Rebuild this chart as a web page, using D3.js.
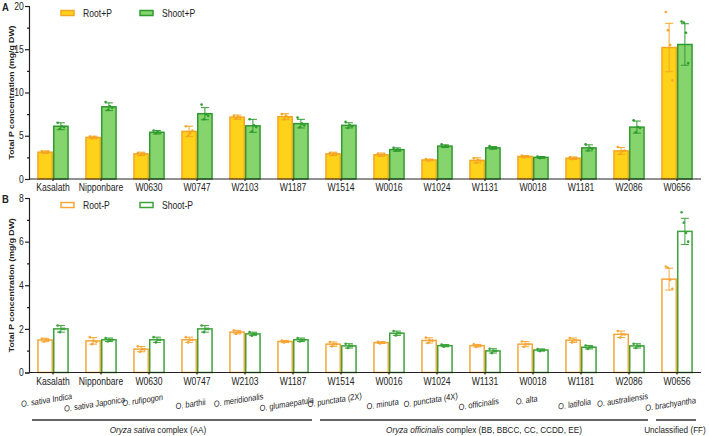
<!DOCTYPE html>
<html>
<head>
<meta charset="utf-8">
<script src="https://cdn.jsdelivr.net/npm/d3@7"></script>
<style>
  body { margin: 0; background: #fff; }
  svg { font-family: "Liberation Sans", Arial, sans-serif; }
  .axis text { font-size: 10px; fill: #222; }
  .axis path, .axis line { stroke: #222; stroke-width: 1.2; }
</style>
</head>
<body>
<div id="plot"></div>
<script>
// categories + species
const cats = ['Kasalath','Nipponbare','W0630','W0747','W2103','W1187','W1514','W0016','W1024','W1131','W0018','W1181','W2086','W0656']
const species = ['O. sativa Indica','O. sativa Japonica','O. rufipogon','O. barthii','O. meridionalis','O. glumaepatula',
  'O. punctata (2X)','O. minuta','O. punctata (4X)','O. officinalis','O. alta','O. latifolia','O. australiensis','O. brachyantha']
const groups = [
  {italic: 'Oryza sativa', rest: ' complex (AA)', from: 0, to: 5},
  {italic: 'Oryza officinalis', rest: ' complex (BB, BBCC, CC, CCDD, EE)', from: 6, to: 12},
  {italic: '', rest: 'Unclassified (FF)', from: 13, to: 13}
]

// panel A (+P)
const rootPlus = [3.1, 4.8, 2.9, 5.5, 7.15, 7.2, 2.9, 2.8, 2.2, 2.15, 2.6, 2.4, 3.25, 15.2]
const rootPlusSd = [0.15, 0.15, 0.2, 0.6, 0.25, 0.35, 0.2, 0.2, 0.1, 0.3, 0.1, 0.15, 0.4, 2.8]
const shootPlus = [6.1, 8.35, 5.4, 7.55, 6.15, 6.4, 6.2, 3.4, 3.8, 3.6, 2.5, 3.6, 6.0, 15.55]
const shootPlusSd = [0.4, 0.45, 0.2, 0.7, 0.75, 0.5, 0.3, 0.2, 0.15, 0.15, 0.1, 0.35, 0.7, 2.4]
const rootPlusReps = [[3.2,3.0,3.1,3.15],[4.9,4.7,4.85,4.75],[3.0,2.8,2.9,2.95],[6.1,5.0,5.3,5.6],[7.3,7.0,7.2,7.1],[7.5,6.9,7.3,7.1],[3.0,2.8,2.9,2.95],
  [2.9,2.7,2.8,2.85],[2.3,2.1,2.2,2.2],[2.4,1.9,2.2,2.1],[2.7,2.5,2.6,2.6],[2.5,2.3,2.4,2.4],[3.7,2.9,3.2,3.3],[19.3,17.2,15.5,11.4]]
const shootPlusReps = [[6.5,5.8,6.1,6.0],[8.9,8.0,8.4,8.2],[5.6,5.3,5.4,5.35],[8.6,6.9,7.5,7.3],[6.9,5.5,6.2,6.0],[7.1,6.0,6.4,6.2],[6.6,5.9,6.2,6.1],
  [3.6,3.3,3.4,3.35],[4.0,3.7,3.8,3.75],[3.8,3.5,3.6,3.6],[2.6,2.4,2.5,2.5],[4.0,3.3,3.6,3.5],[6.8,5.4,6.0,5.9],[18.2,18.1,16.9,13.4]]

// panel B (-P)
const rootMinus = [1.49, 1.45, 1.07, 1.5, 1.85, 1.42, 1.3, 1.37, 1.47, 1.23, 1.3, 1.48, 1.75, 4.28]
const rootMinusSd = [0.08, 0.15, 0.12, 0.12, 0.08, 0.05, 0.1, 0.04, 0.12, 0.06, 0.12, 0.1, 0.15, 0.5]
const shootMinus = [2.0, 1.5, 1.5, 2.0, 1.77, 1.5, 1.22, 1.8, 1.23, 0.99, 1.03, 1.16, 1.22, 6.47]
const shootMinusSd = [0.15, 0.08, 0.12, 0.15, 0.08, 0.08, 0.1, 0.1, 0.05, 0.1, 0.05, 0.08, 0.1, 0.6]
const rootMinusReps = [[1.55,1.42,1.5,1.48],[1.62,1.3,1.45,1.4],[1.2,0.95,1.07,1.05],[1.62,1.38,1.5,1.5],[1.93,1.78,1.85,1.84],[1.47,1.38,1.42,1.41],[1.4,1.2,1.3,1.3],
  [1.41,1.33,1.37,1.37],[1.6,1.35,1.47,1.46],[1.29,1.17,1.23,1.23],[1.42,1.18,1.3,1.3],[1.58,1.38,1.48,1.47],[1.9,1.6,1.75,1.74],[4.86,4.8,4.25,3.84]]
const shootMinusReps = [[2.15,1.85,2.0,2.0],[1.58,1.42,1.5,1.5],[1.62,1.38,1.5,1.5],[2.15,1.85,2.0,2.0],[1.85,1.69,1.77,1.77],[1.58,1.42,1.5,1.5],[1.32,1.12,1.22,1.22],
  [1.9,1.7,1.8,1.8],[1.28,1.18,1.23,1.23],[1.09,0.89,0.99,0.99],[1.08,0.98,1.03,1.03],[1.24,1.08,1.16,1.16],[1.32,1.12,1.22,1.22],[7.35,6.87,6.4,6.0]]

const W = 709, H = 436
const SQ = 0.86 // the reference type is a bit narrow, squeeze text horizontally
const svg = d3.select('#plot').append('svg').attr('width', W).attr('height', H)

const x = d3.scaleBand().domain(cats).range([29, 701]).padding(0)
const barW = 15.8
const mid = d => x(d) + x.bandwidth()/2

const colors = {
  rootFill: '#FFD21A', rootStroke: '#F5A524',
  shootFill: '#86D46E', shootStroke: '#2F9B2F',
  rootOpen: '#F7A637', shootOpen: '#3BA33A'
}

// text placed at (tx,ty), squeezed
function addText(parent, tx, ty, str, size, extra) {
  const t = parent.append('text')
    .attr('transform', `translate(${tx},${ty}) ${extra || ''} scale(${SQ},1)`)
    .attr('font-size', size).attr('fill', '#222')
  if (str != null) t.text(str)
  return t
}

function panel(opts) {
  const y = d3.scaleLinear().domain([0, opts.max]).range([opts.bottom, opts.top])
  const g = svg.append('g')

  const series = [
    {vals: opts.root, sd: opts.rootSd, reps: opts.rootReps, off: -barW, fill: opts.rootFill, stroke: opts.rootStroke},
    {vals: opts.shoot, sd: opts.shootSd, reps: opts.shootReps, off: 0, fill: opts.shootFill, stroke: opts.shootStroke}
  ]
  series.forEach(s => {
    const sg = g.append('g')
    sg.selectAll('rect').data(cats).join('rect')
      .attr('x', d => mid(d) + s.off + 0.75)
      .attr('width', barW - 1.5)
      .attr('y', (d, i) => y(s.vals[i]))
      .attr('height', (d, i) => y(0) - y(s.vals[i]))
      .attr('fill', s.fill)
      .attr('stroke', s.stroke)
      .attr('stroke-width', 1.5)
    const cx = d => mid(d) + s.off + barW/2
    // error bars
    sg.selectAll('path.err').data(cats).join('path')
      .attr('class', 'err')
      .attr('d', (d, i) => {
        const c = cx(d), lo = y(s.vals[i] - s.sd[i]), hi = y(s.vals[i] + s.sd[i])
        return `M${c},${lo}V${hi}M${c-4},${hi}H${c+4}M${c-4},${lo}H${c+4}`
      })
      .attr('fill', 'none').attr('stroke', s.stroke).attr('stroke-width', 1)
    // replicate dots
    const pts = []
    cats.forEach((d, i) => s.reps[i].forEach((v, j) => pts.push({c: cx(d) + (j - 1.5) * 2.2, v})))
    sg.selectAll('circle').data(pts).join('circle')
      .attr('cx', p => p.c).attr('cy', p => y(p.v)).attr('r', 1.3)
      .attr('fill', s.stroke)
  })

  // y axis
  g.append('g').attr('class', 'axis')
    .attr('transform', 'translate(29,0)')
    .call(d3.axisLeft(y).tickValues(opts.ticks).tickSize(4).tickPadding(2).tickFormat(d3.format('d')))
    .call(a => a.selectAll('.tick text').attr('transform', `scale(${SQ},1)`))
  g.append('g').attr('class', 'axis')
    .attr('transform', 'translate(29,0)')
    .call(d3.axisLeft(y).tickValues(opts.minor).tickSize(2).tickFormat(''))
    .call(a => a.select('.domain').remove())

  // x axis
  g.append('g').attr('class', 'axis')
    .attr('transform', `translate(0,${opts.bottom})`)
    .call(d3.axisBottom(x).tickSize(2).tickSizeOuter(0).tickPadding(3))
    .call(a => a.select('.domain').attr('d', 'M29,0H701'))
    .call(a => a.selectAll('.tick text').attr('transform', `scale(${SQ},1)`))

  // y title
  svg.append('text')
    .attr('transform', `translate(14,${(opts.top + opts.bottom)/2}) rotate(-90) scale(1,${SQ})`)
    .attr('text-anchor', 'middle')
    .attr('font-size', 8.7).attr('font-weight', 'bold').attr('fill', '#222')
    .text('Total P concentration (mg/g DW)')

  // panel letter
  addText(svg, 2, opts.top + 5, opts.letter, 11).attr('font-weight', 'bold')

  // legend
  const lg = svg.append('g').attr('transform', `translate(60,${opts.top + 7})`)
  opts.legend.forEach((l, i) => {
    const gx = i * 79
    lg.append('rect').attr('x', gx + 1).attr('y', -2.5).attr('width', 13).attr('height', 5)
      .attr('fill', l.fill).attr('stroke', l.stroke).attr('stroke-width', 1.5)
    addText(lg, gx + 23, 3.5, l.label, 10)
  })
}

panel({
  letter: 'A', max: 20, top: 6, bottom: 179,
  ticks: [0, 5, 10, 15, 20], minor: [2.5, 7.5, 12.5, 17.5],
  root: rootPlus, rootSd: rootPlusSd, rootReps: rootPlusReps,
  shoot: shootPlus, shootSd: shootPlusSd, shootReps: shootPlusReps,
  rootFill: colors.rootFill, rootStroke: colors.rootStroke,
  shootFill: colors.shootFill, shootStroke: colors.shootStroke,
  legend: [
    {label: 'Root+P', fill: colors.rootFill, stroke: colors.rootStroke},
    {label: 'Shoot+P', fill: colors.shootFill, stroke: colors.shootStroke}
  ]
})

panel({
  letter: 'B', max: 8, top: 198, bottom: 372.5,
  ticks: [0, 2, 4, 6, 8], minor: [1, 3, 5, 7],
  root: rootMinus, rootSd: rootMinusSd, rootReps: rootMinusReps,
  shoot: shootMinus, shootSd: shootMinusSd, shootReps: shootMinusReps,
  rootFill: 'none', rootStroke: colors.rootOpen,
  shootFill: 'none', shootStroke: colors.shootOpen,
  legend: [
    {label: 'Root-P', fill: '#fff', stroke: colors.rootOpen},
    {label: 'Shoot-P', fill: '#fff', stroke: colors.shootOpen}
  ]
})

// species labels (rotated, italic), staggered
const sp = svg.append('g')
species.forEach((d, i) => {
  addText(sp, mid(cats[i]) - 6, i % 2 ? 407 : 403, d, 8.7, 'rotate(-9)')
    .attr('text-anchor', 'middle').attr('font-style', 'italic')
})

// group brackets
const labelShift = [-14, 0, -1]
const gg = svg.append('g')
groups.forEach((gr, k) => {
  const x0 = mid(cats[gr.from]) - 21
  const x1 = mid(cats[gr.to]) + 19
  gg.append('line').attr('x1', x0).attr('x2', x1).attr('y1', 420).attr('y2', 420)
    .attr('stroke', '#333').attr('stroke-width', 1.5)
  const t = addText(gg, (x0 + x1)/2 + labelShift[k], 433, null, 9.5).attr('text-anchor', 'middle')
  if (gr.italic) t.append('tspan').attr('font-style', 'italic').text(gr.italic)
  t.append('tspan').text(gr.rest)
})
</script>
</body>
</html>
